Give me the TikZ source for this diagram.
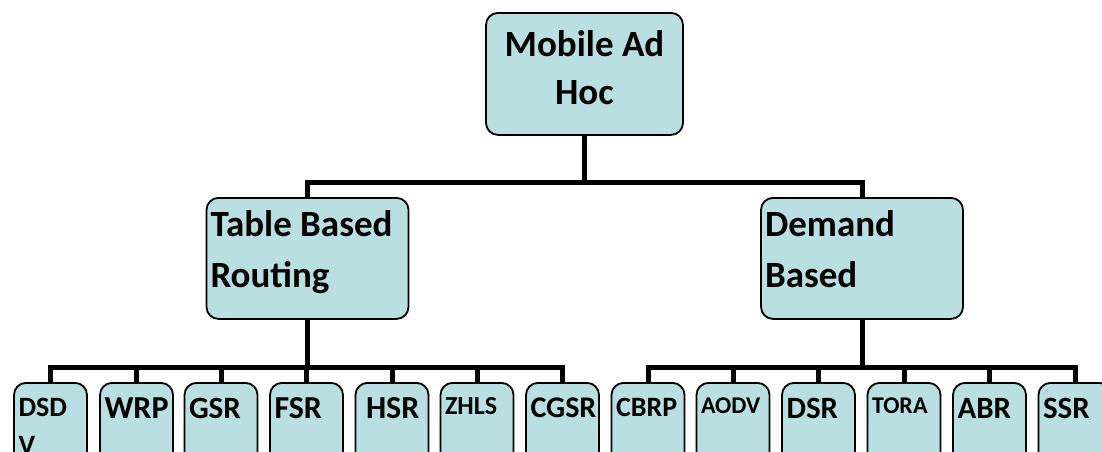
\documentclass[tikz,border=0pt]{standalone}
\usepackage{fontspec}
\setmainfont{Carlito}

\definecolor{boxfill}{RGB}{185,223,227}

\tikzset{
    box/.style={draw=black, line width=1.8pt, fill=boxfill, rounded corners=12pt},
    topbox/.style={box, anchor=north, text width=189pt, inner xsep=4pt,
        inner ysep=18pt, text height=26pt, text depth=60pt,
        align=flush center, font=\bfseries\fontsize{37}{48}\selectfont},
    midbox/.style={box, anchor=north, text width=194pt, inner xsep=4pt,
        inner ysep=13pt, text height=26pt, text depth=69pt,
        align=flush left, font=\bfseries\fontsize{37}{51}\selectfont},
    leaf/.style={box, anchor=north, text width=64pt, inner xsep=4.5pt,
        inner ysep=15pt, text depth=80pt, align=flush left},
    conn/.style={line width=5pt},
}

\begin{document}
\begin{tikzpicture}[x=1pt, y=-1pt]
    \useasboundingbox (0, 0) rectangle (1102, 451);
    \clip (0, 0) rectangle (1102, 451);

    % top and second level
    \node[topbox] (root) at (584.5, 12) {Mobile Ad\\Hoc};
    \node[midbox] (table) at (307.5, 197) {Table Based\\Routing};
    \node[midbox] (demand) at (862, 197) {Demand\\Based};

    \draw[conn] (root.south) -- ++(0, 47) coordinate (rootbus) -| (table.north);
    \draw[conn] (rootbus) -| (demand.north);

    % protocols
    \foreach \name/\xpos/\txt/\fs/\parent in {
            dsdv/50.5/{DSD\\V}/28/table,
            wrp/136.5/WRP/32/table,
            gsr/221/GSR/31/table,
            fsr/306.5/FSR/32/table,
            hsr/392/{\hspace*{6pt}HSR}/32/table,
            zhls/477/ZHLS/26/table,
            cgsr/562.5/CGSR/30/table,
            cbrp/648/CBRP/28/demand,
            aodv/733/AODV/24/demand,
            dsr/818.5/DSR/31/demand,
            tora/904/TORA/24/demand,
            abr/989.5/ABR/31/demand,
            ssr/1075/SSR/31/demand} {
        \node[leaf, font=\bfseries\fontsize{\fs}{38}\selectfont] (\name) at (\xpos, 382) {\txt};
        \draw[conn] (\parent.south) -- ++(0, 48) -| (\name.north);
    }
\end{tikzpicture}
\end{document}
